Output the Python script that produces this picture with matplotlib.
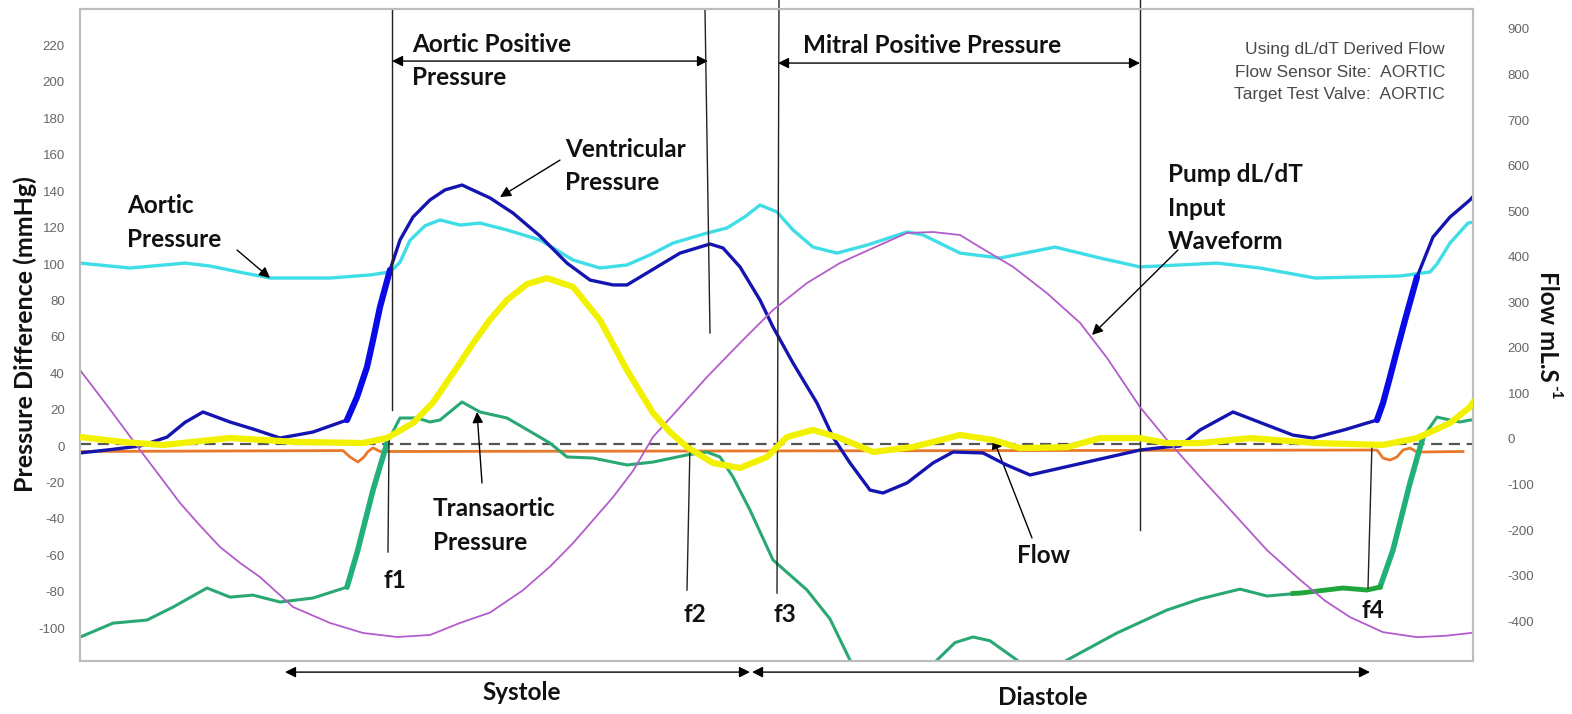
import matplotlib
matplotlib.use('Agg')
import matplotlib.pyplot as plt

# ---------------- data (time axis in samples, left axis mmHg, right axis mL/s) --------
aortic_t = [0, 50, 105, 130, 160, 190, 250, 290, 310, 320, 330, 345, 360, 380, 400, 427, 460,
            493, 520, 547, 570, 593, 627, 647, 665, 680, 697, 713, 733, 757, 787, 827, 843, 880,
            920, 975, 1020, 1060, 1137, 1180, 1235, 1320, 1350, 1357, 1370, 1388, 1393]
aortic_p = [100.5, 97.8, 100.5, 98.9, 95.5, 92.3, 92.3, 94, 95.6, 101, 113, 121, 124.2, 121.4,
            122.5, 118.7, 113.2, 102.2, 97.8, 99.5, 105, 111.5, 117, 119.8, 126, 132.4, 128.6,
            118.7, 109.3, 106, 110.4, 117.6, 116, 106, 103.3, 109.3, 103.3, 98.4, 100.5, 97.8,
            92.3, 93.4, 95.6, 100, 111.5, 122.5, 123]

vent_t = [0, 30, 60, 87, 105, 123, 150, 175, 200, 233, 267, 277, 287, 293, 300, 310, 320, 333,
          350, 365, 382, 410, 433, 460, 487, 510, 533, 547, 577, 600, 630, 643, 660, 680, 693,
          713, 737, 753, 770, 790, 803, 827, 853, 873, 903, 925, 950, 1003, 1060, 1087, 1100,
          1120, 1153, 1187, 1213, 1233, 1265, 1297, 1303, 1310, 1317, 1325, 1337, 1353, 1370,
          1390, 1393]
vent_p = [-3.8, -2, 0, 4.9, 13, 18.7, 13.2, 9, 4.4, 7.7, 14.3, 26.9, 43.4, 58.2, 76.4, 96.7,
          113.2, 125.8, 135.2, 140.7, 143.4, 136.3, 128, 115.4, 100.5, 91.2, 88.5, 88.5, 98.4,
          106, 111, 108.8, 98.4, 80.2, 65.4, 45.6, 23.6, 4.9, -9.3, -24.2, -25.8, -20.3, -9.3,
          -3.3, -3.8, -10, -15.9, -9.3, -2.2, -0.5, 0, 8.8, 18.7, 11.5, 6, 4.4, 9, 14.3, 23.6,
          37.9, 52.7, 69.2, 92.9, 114.8, 125.8, 135.2, 137]

flow_t = [0, 43, 83, 150, 217, 283, 307, 333, 353, 380, 393, 410, 427, 447, 467, 493, 520, 547,
          573, 590, 607, 633, 660, 687, 707, 733, 760, 793, 833, 880, 913, 940, 987, 1020, 1060,
          1087, 1120, 1170, 1237, 1303, 1337, 1360, 1370, 1390, 1393]
flow_q = [4.4, -6.6, -13.2, 2.2, -6.6, -8.8, 2.2, 35, 80, 167, 210, 262, 305, 340, 353, 334,
          261, 151, 57, 15, -17.6, -52.7, -63.7, -39.5, 4.4, 19.8, 2.2, -28.5, -17.6, 8.8, -2,
          -20, -18, 2, 2, -9, -9, 2, -9, -13, 2, 25, 35, 70, 80]

pump_t = [0, 30, 60, 80, 100, 120, 140, 160, 180, 213, 250, 283, 317, 350, 380, 410, 443, 470,
          493, 533, 553, 573, 600, 627, 660, 693, 727, 760, 793, 827, 853, 880, 900, 933, 967,
          1000, 1027, 1060, 1087, 1120, 1153, 1187, 1220, 1245, 1270, 1303, 1337, 1365, 1390,
          1393]
pump_q = [151.4, 65, -24.1, -82, -140.5, -190, -237, -272, -303, -368.7, -403.8, -425.8,
          -434.6, -430.2, -403.8, -381, -331.9, -280, -228.7, -127.7, -70, 4.4, 70, 136.1,
          210.7, 283.1, 342.4, 386.3, 419.2, 452.2, 454.3, 447.8, 421, 378, 320, 255, 178, 70,
          -2, -83, -162, -244, -309, -355, -391, -424, -435, -432, -426, -425]

trans_t = [0, 33, 67, 93, 127, 150, 173, 200, 233, 267, 277, 293, 307, 320, 337, 350, 360, 382,
           400, 427, 453, 470, 487, 513, 547, 573, 607, 627, 640, 653, 670, 693, 727, 750, 770,
           800, 830, 857, 875, 893, 910, 937, 962, 987, 1037, 1087, 1120, 1160, 1187, 1220,
           1263, 1287, 1300, 1313, 1330, 1343, 1357, 1370, 1380, 1390, 1393]
trans_p = [-105, -97.3, -95.6, -88.5, -78, -83, -81.9, -85.7, -83.5, -77.5, -58.8, -24.2, 1.6,
           15.4, 15.4, 13.2, 14.3, 24.2, 18.7, 15.4, 7.1, 1.6, -6, -6.6, -10.4, -8.8, -4.9,
           -3.3, -6, -17, -35.2, -62.6, -79.1, -95, -117.6, -135, -135, -117.6, -108, -104.9,
           -107, -117.6, -128, -117.6, -102.7, -90.1, -84, -78.6, -82.4, -80.8, -78, -79.1,
           -77.5, -57.1, -20.3, 4.9, 15.9, 14.3, 13.2, 14.3, 14.3]
trans_hl_t = [1213, 1220, 1263, 1287, 1300]
trans_hl_p = [-81.0, -80.8, -78, -79.1, -77.5]

orange_t = [0, 263, 270, 278, 284, 288, 293, 300, 1297, 1303, 1310, 1317, 1323, 1330, 1337, 1383]
orange_p = [-3, -2.5, -6, -8.8, -6, -3, -1, -3, -2.2, -6.6, -7.7, -6, -2.2, -1.1, -3.3, -3]

left_ticks = list(range(-100, 221, 20))
right_ticks = list(range(-400, 901, 100))

# ---------------- figure ----------------
W, H = 1572, 714
fig = plt.figure(figsize=(W / 100, H / 100), dpi=100)
ax = fig.add_axes([80 / W, 1 - 661 / H, 1393 / W, 652 / H])
ax2 = ax.twinx()
ax.set_xlim(0, 1393)
ax.set_ylim(-118.1, 240.1)
ax2.set_ylim(-487.3, 943.8)

ax.set_xticks([])
ax.set_yticks(left_ticks)
ax.set_yticklabels([str(v) for v in left_ticks])
ax2.set_yticks(right_ticks)
ax2.set_yticklabels([str(v) for v in right_ticks])
for a in (ax, ax2):
    for s in a.spines.values():
        s.set_color('#bdbdbd')
        s.set_linewidth(1.5)
ax.tick_params(axis='y', length=0, pad=11, labelsize=9.5, labelcolor='#666666')
ax2.tick_params(axis='y', length=0, pad=25, labelsize=9.5, labelcolor='#666666')
for lbl in ax.get_yticklabels() + ax2.get_yticklabels():
    lbl.set_family('Liberation Sans')

# reference zero line
ax.axhline(1, color='#555555', lw=1.6, ls=(0, (5, 3)), zorder=1)

# curves
ax.plot(orange_t, orange_p, color='#e8782a', lw=2, zorder=2)
ax.plot(trans_t, trans_p, color='#2aa874', lw=2.2, zorder=3, solid_joinstyle='round')
for a, b in ((9, 13), (52, 56)):
    ax.plot(trans_t[a:b], trans_p[a:b], color='#22b07a', lw=4, zorder=3,
            solid_capstyle='round')
ax.plot(trans_hl_t, trans_hl_p, color='#1fa53a', lw=3.5, zorder=3)
ax.plot(aortic_t, aortic_p, color='#3fdde6', lw=2.4, zorder=3, solid_joinstyle='round')
ax.plot(vent_t, vent_p, color='#1414b0', lw=2.4, zorder=4, solid_joinstyle='round')
for a, b in ((10, 16), (57, 63)):
    ax.plot(vent_t[a:b], vent_p[a:b], color='#0a0ae6', lw=4.5, zorder=4,
            solid_capstyle='round')
ax2.plot(pump_t, pump_q, color='#b35ccc', lw=1.3, zorder=2)
ax2.plot(flow_t, flow_q, color='#f2f200', lw=4.5, zorder=3, solid_joinstyle='round')

# vertical marker lines
vlines = [((312, 312), (239.6, 19.8)), ((309, 308), (3.3, -58.2)), ((625, 630), (239.6, 62.1)),
          ((610, 607), (0.5, -79.1)), ((699, 697), (245, -80.8)), ((1060, 1060), (245, -46.2)),
          ((1292, 1288), (1.6, -78))]
for xs, ys in vlines:
    ax.plot(xs, ys, color='#222222', lw=1.0, clip_on=False, zorder=6)

# double arrows
dbl = [(312, 628, 211.5), (698, 1060, 210.4), (205, 670, -124.2), (672, 1290, -124.2)]
for x1, x2, y in dbl:
    ax.annotate('', xy=(x2, y), xytext=(x1, y), annotation_clip=False,
                arrowprops=dict(arrowstyle='<|-|>', color='black', lw=1.0,
                                mutation_scale=16, shrinkA=0, shrinkB=0))

# pointer arrows
ptr = [((157, 107.7), (190, 92.3)), ((480, 157.1), (420, 136.8)), ((1098, 107.7), (1012, 61)),
       ((402, -20.3), (397, 18.7)), ((952, -50.5), (913, 4.4))]
for (x1, y1), (x2, y2) in ptr:
    ax.annotate('', xy=(x2, y2), xytext=(x1, y1), annotation_clip=False,
                arrowprops=dict(arrowstyle='-|>', color='black', lw=1.0,
                                mutation_scale=16, shrinkA=0, shrinkB=0))

# labels
LP = 18.4
labels = [(["Aortic", "Pressure"], 47, 128.0), (["Aortic Positive", "Pressure"], 332, 216.5),
          (["Ventricular", "Pressure"], 485, 158.8), (["Mitral Positive Pressure"], 723, 215.9),
          (["Pump dL/dT", "Input", "Waveform"], 1088, 145.0),
          (["Transaortic", "Pressure"], 353, -38.5), (["Flow"], 937, -64.3),
          (["f1"], 303, -78.0), (["f2"], 603, -96.7), (["f3"], 693, -96.7), (["f4"], 1282, -94.5),
          (["Systole"], 402, -139.6), (["Diastole"], 918, -142.3)]
for lines, x, y in labels:
    for i, line in enumerate(lines):
        ax.text(x, y - i * LP, line, ha='left', va='baseline', fontsize=17.5,
                fontweight='bold', family='Lato', color='#111111', zorder=7)

info = ["Using dL/dT Derived Flow", "Flow Sensor Site:  AORTIC", "Target Test Valve:  AORTIC"]
for i, line in enumerate(info):
    ax.text(1365, 215.4 - i * 12.5, line, ha='right', va='baseline', fontsize=12.5,
            family='Liberation Sans', color='#4a4a4a')

fig.text(25 / W, 1 - 334 / H, "Pressure Difference (mmHg)", rotation=90, ha='center',
         va='center', fontsize=18, fontweight='bold', family='Lato', color='#111111')
fig.text(1547 / W, 1 - 326 / H, "Flow mL.S", rotation=270, ha='center',
         va='center', fontsize=17.5, fontweight='bold', family='Lato', color='#111111')
fig.text(1555 / W, 1 - 392 / H, "-1", rotation=270, ha='center',
         va='center', fontsize=11, fontweight='bold', family='Lato', color='#111111')

fig.savefig('out.png', dpi=100)
